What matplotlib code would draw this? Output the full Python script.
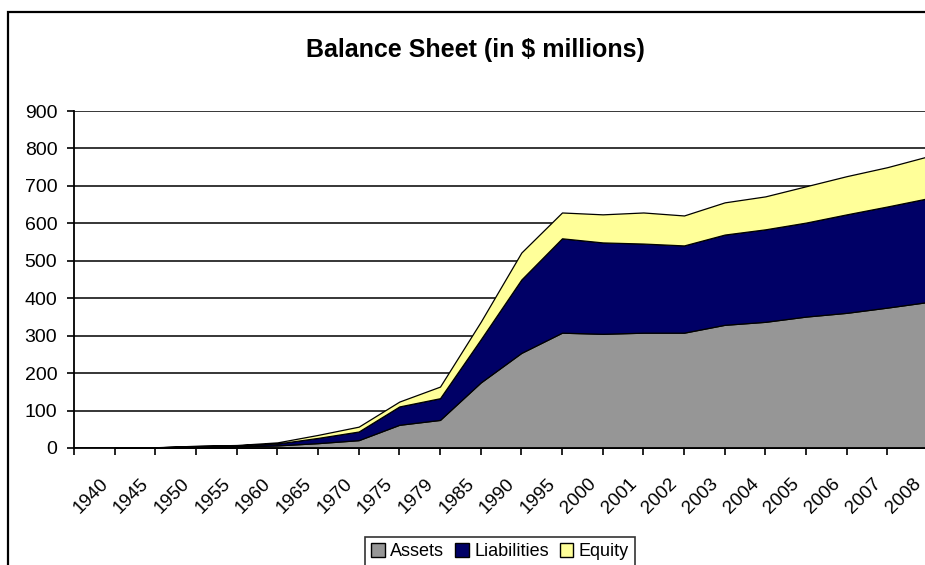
import matplotlib
matplotlib.use('Agg')
import matplotlib.pyplot as plt
from matplotlib.patches import Rectangle, Patch
from matplotlib.transforms import ScaledTranslation

plt.rcParams['font.family'] = ['Liberation Sans', 'DejaVu Sans']

# Balance sheet data (in $ millions)
years = ['1940', '1945', '1950', '1955', '1960', '1965', '1970', '1975', '1979',
         '1985', '1990', '1995', '2000', '2001', '2002', '2003', '2004', '2005',
         '2006', '2007', '2008']
assets = [0.5, 1, 3, 4, 7, 13, 21, 62, 75, 175, 254, 308, 305, 308, 308, 329,
          337, 351, 361, 375, 390]
liabilities = [0.3, 0.7, 2, 3, 5, 14, 23, 49, 58, 115, 196, 252, 244, 238, 233,
               241, 247, 251, 263, 270, 277]
equity = [0.2, 0.3, 1, 1, 3, 8, 13, 13, 31, 47, 72, 69, 75, 83, 80, 86, 88, 97,
          102, 105, 112]
y_ticks = [0, 100, 200, 300, 400, 500, 600, 700, 800, 900]

colors = ['#969696', '#000066', '#FFFF99']
series_names = ['Assets', 'Liabilities', 'Equity']

W, H = 925, 565
fig = plt.figure(figsize=(W / 100, H / 100), dpi=100)
fig.patch.set_facecolor('white')

# chart frame (cropped on the right and bottom like the original)
fig.add_artist(Rectangle((8 / W, -0.2), 1.5, 1.2 - 12 / H, transform=fig.transFigure,
                         fill=False, edgecolor='black', linewidth=1.6))

ax = fig.add_axes([74 / W, 1 - 448 / H, (928 - 74) / W, (448 - 111) / H])
x = list(range(len(years)))
ax.stackplot(x, assets, liabilities, equity, colors=colors,
             edgecolor='black', linewidth=0.9, zorder=2)

ax.set_xlim(-1, len(years) - 1)
ax.set_ylim(0, 900)
ax.set_yticks(y_ticks)
ax.set_axisbelow(True)
ax.yaxis.grid(True, color='black', linewidth=1.1)

for side in ['top', 'right']:
    ax.spines[side].set_visible(False)
for side in ['left', 'bottom']:
    ax.spines[side].set_linewidth(1.3)
    ax.spines[side].set_color('black')

ax.tick_params(axis='y', length=5, width=1.2, pad=7, labelsize=14)
ax.tick_params(axis='x', length=5, width=1.2, pad=19, labelsize=13.5)

ax.set_xticks([-1] + x)
ax.set_xticklabels([''] + years)
shift = ScaledTranslation(-9 / 100, 0, fig.dpi_scale_trans)
for lbl in ax.get_xticklabels():
    lbl.set_rotation(45)
    lbl.set_rotation_mode('anchor')
    lbl.set_ha('right')
    lbl.set_va('center')
    lbl.set_transform(lbl.get_transform() + shift)

fig.text(475 / W, 1 - 50 / H, 'Balance Sheet (in $ millions)', ha='center',
         va='center', fontsize=18, fontweight='bold')

handles = [Patch(facecolor=c, edgecolor='black', linewidth=1) for c in colors]
leg = fig.legend(handles, series_names, loc='upper center',
                 bbox_to_anchor=(500 / W, 1 - 537 / H), ncol=3, fontsize=13,
                 frameon=True, fancybox=False, shadow=False,
                 handlelength=0.75, handleheight=0.75, handletextpad=0.3,
                 columnspacing=0.6, borderpad=0.35, borderaxespad=0)
leg.get_frame().set_edgecolor('black')
leg.get_frame().set_linewidth(1.2)

fig.savefig('out.png', dpi=100)
